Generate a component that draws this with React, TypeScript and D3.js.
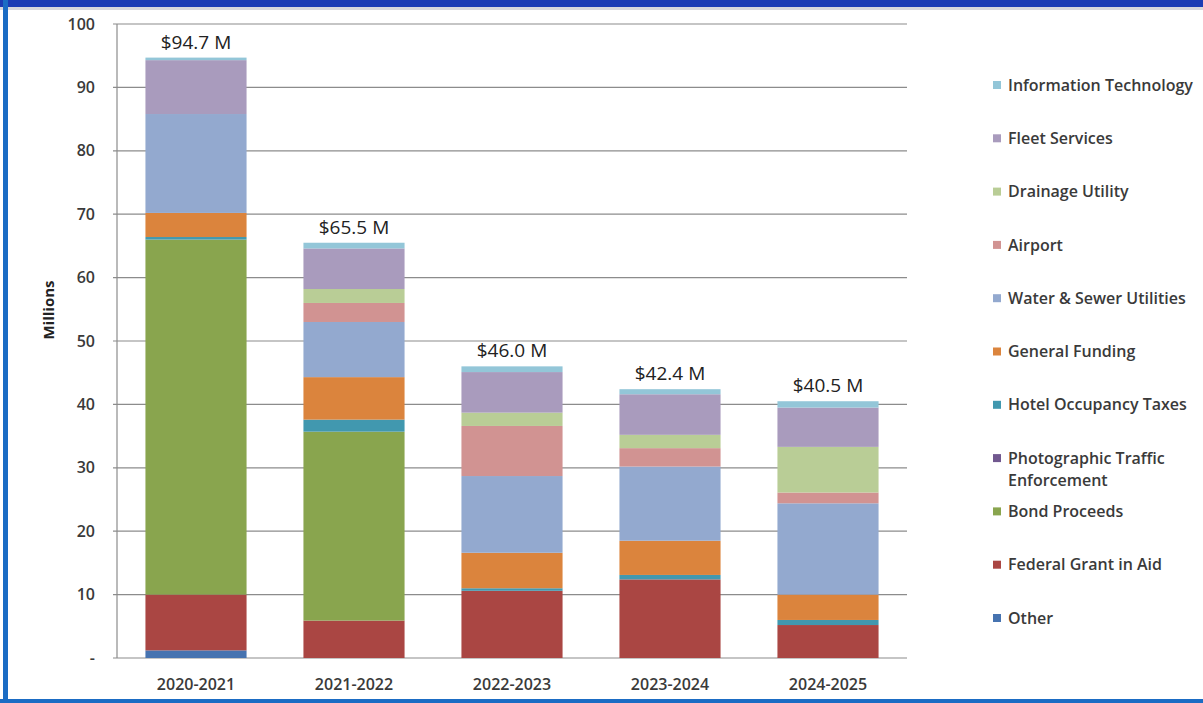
import { useMemo } from "react";
import * as d3 from "d3";

const years = ["2020-2021", "2021-2022", "2022-2023", "2023-2024", "2024-2025"];

// stacking order, bottom to top
const sources = [
  "Other",
  "Federal Grant in Aid",
  "Bond Proceeds",
  "Photographic Traffic Enforcement",
  "Hotel Occupancy Taxes",
  "General Funding",
  "Water & Sewer Utilities",
  "Airport",
  "Drainage Utility",
  "Fleet Services",
  "Information Technology",
];

const other = [1.2, 0, 0, 0, 0];
const federal = [8.8, 5.9, 10.6, 12.4, 5.2];
const bond = [56.0, 29.8, 0, 0, 0];
const photographic = [0, 0, 0, 0, 0];
const hotel = [0.4, 1.9, 0.4, 0.7, 0.8];
const general = [3.8, 6.7, 5.6, 5.4, 4.0];
const water = [15.6, 8.7, 12.1, 11.7, 14.4];
const airport = [0, 3.0, 7.9, 2.9, 1.7];
const drainage = [0, 2.2, 2.1, 2.1, 7.2];
const fleet = [8.5, 6.4, 6.4, 6.4, 6.2];
const infoTech = [0.4, 0.9, 0.9, 0.8, 1.0];

const totalLabels = ["$94.7 M", "$65.5 M", "$46.0 M", "$42.4 M", "$40.5 M"];
const yTicks = [0, 10, 20, 30, 40, 50, 60, 70, 80, 90, 100];

const colors = [
  "#4673b0",
  "#aa4643",
  "#89a54e",
  "#71588f",
  "#4198af",
  "#db843d",
  "#93a9cf",
  "#d19392",
  "#b9cd96",
  "#a99bbd",
  "#93c6d8",
];

const seriesValues = [other, federal, bond, photographic, hotel, general, water, airport, drainage, fleet, infoTech];

const W = 1203;
const H = 703;
const margin = { left: 117, right: 296, top: 24, bottom: 45 };
const font = "'Open Sans', sans-serif";
const textColor = "#3a3a3a";

export default function App() {
  const rows = years.map((year, i) => {
    const row: Record<string, number | string> = { year };
    sources.forEach((s, k) => (row[s] = seriesValues[k][i]));
    return row;
  });

  const stacked = useMemo(() => d3.stack<any>().keys(sources)(rows), []);

  const x = d3
    .scaleBand()
    .domain(years)
    .range([margin.left, W - margin.right])
    .paddingInner(0.36)
    .paddingOuter(0.18);
  const y = d3.scaleLinear().domain([0, 100]).range([H - margin.bottom, margin.top]);
  const color = d3.scaleOrdinal<string>().domain(sources).range(colors);

  const legendItems = [...sources].reverse();
  const legendY = d3.scalePoint().domain(legendItems).range([85, 618]);

  return (
    <div style={{ position: "absolute", left: 0, top: 0 }}>
      <svg width={W} height={H} style={{ display: "block" }}>
        <rect x={0} y={0} width={W} height={H} fill="#fff" />
        {/* frame */}
        <rect x={0} y={0} width={W} height={7} fill="#1c3cb4" />
        <rect x={0} y={7} width={W} height={3} fill="#d8d8dc" />
        <rect x={3} y={0} width={5} height={H} fill="#1b6cc4" />
        <rect x={0} y={699} width={W} height={4} fill="#1b6cc4" />

        {/* grid */}
        {yTicks.map((t) => (
          <g key={t}>
            <line
              x1={margin.left - 4}
              x2={W - margin.right}
              y1={y(t)}
              y2={y(t)}
              stroke="#8c8c8c"
              strokeWidth={1.2}
            />
            <text
              x={95}
              y={y(t)}
              dy="0.35em"
              textAnchor="end"
              fontFamily={font}
              fontSize={16}
              fontWeight={600}
              fill={textColor}
            >
              {t === 0 ? "-" : t}
            </text>
          </g>
        ))}
        <line x1={margin.left} x2={margin.left} y1={y(100)} y2={y(0)} stroke="#8c8c8c" strokeWidth={1.2} />

        {/* bars */}
        {stacked.map((layer) =>
          layer.map((d, i) => (
            <rect
              key={layer.key + i}
              x={x(years[i])}
              width={x.bandwidth()}
              y={y(d[1])}
              height={Math.max(0, y(d[0]) - y(d[1]))}
              fill={color(layer.key)}
            />
          ))
        )}

        {/* totals */}
        {years.map((yr, i) => {
          const top = stacked[stacked.length - 1][i][1];
          return (
            <text
              key={yr}
              x={(x(yr) ?? 0) + x.bandwidth() / 2}
              y={y(top) - 9}
              textAnchor="middle"
              fontFamily={font}
              fontSize={19}
              fill="#222"
            >
              {totalLabels[i]}
            </text>
          );
        })}

        {/* x labels */}
        {years.map((yr) => (
          <text
            key={yr}
            x={(x(yr) ?? 0) + x.bandwidth() / 2}
            y={684}
            dy="0.35em"
            textAnchor="middle"
            fontFamily={font}
            fontSize={16}
            fontWeight={600}
            fill={textColor}
          >
            {yr}
          </text>
        ))}

        <text
          transform={`translate(49,310) rotate(-90)`}
          textAnchor="middle"
          dy="0.35em"
          fontFamily={font}
          fontSize={15}
          fontWeight={700}
          fill="#222"
        >
          Millions
        </text>

        {/* legend */}
        {legendItems.map((s) => {
          const ly = legendY(s) ?? 0;
          const lines = s === "Photographic Traffic Enforcement" ? ["Photographic Traffic", "Enforcement"] : [s];
          return (
            <g key={s}>
              <rect x={993} y={ly - 4} width={8} height={8} fill={color(s)} />
              {lines.map((ln, j) => (
                <text
                  key={ln}
                  x={1008}
                  y={ly + j * 22}
                  dy="0.35em"
                  fontFamily={font}
                  fontSize={16}
                  fontWeight={600}
                  fill={textColor}
                >
                  {ln}
                </text>
              ))}
            </g>
          );
        })}
      </svg>
    </div>
  );
}
